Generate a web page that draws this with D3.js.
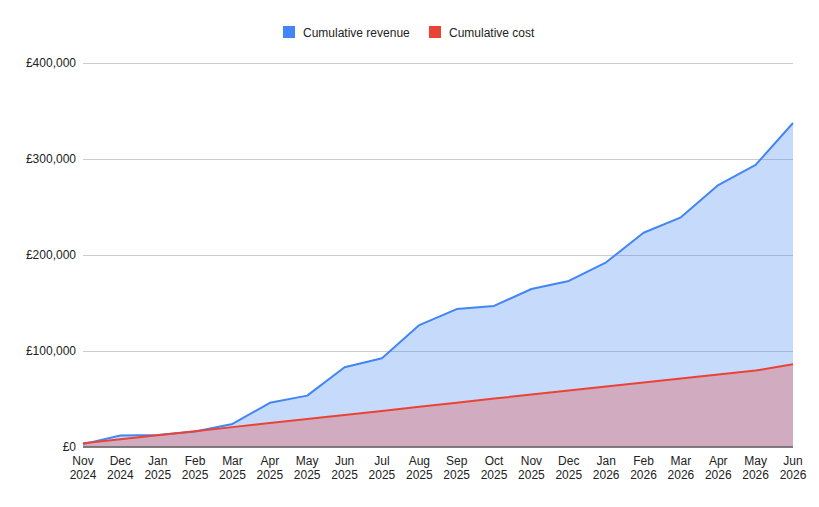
<!DOCTYPE html>
<html>
<head>
<meta charset="utf-8">
<script src="https://cdn.jsdelivr.net/npm/d3@7"></script>
<style>
  body { margin: 0; background: #fff; }
  text { font-family: "Liberation Sans", Arial, sans-serif; }
</style>
</head>
<body>
<div class="chart"></div>
<script>
// months on the x axis, two-line labels
const months = ["Nov", "Dec", "Jan", "Feb", "Mar", "Apr", "May", "Jun", "Jul", "Aug",
                "Sep", "Oct", "Nov", "Dec", "Jan", "Feb", "Mar", "Apr", "May", "Jun"]
const years = ["2024", "2024", "2025", "2025", "2025", "2025", "2025", "2025", "2025", "2025",
               "2025", "2025", "2025", "2025", "2026", "2026", "2026", "2026", "2026", "2026"]

const revenue = [3000, 12000, 12400, 16200, 24000, 46000, 53500, 83000, 92500, 127000,
                 143700, 147000, 164600, 173000, 192400, 223200, 239200, 272900, 293800, 337500]
const cost = [3900, 8100, 12300, 16500, 20700, 25000, 29200, 33400, 37600, 41900,
              46200, 50400, 54600, 58800, 63000, 67200, 71300, 75500, 79600, 86100]

const yTicks = [0, 100000, 200000, 300000, 400000]

const seriesNames = ["Cumulative revenue", "Cumulative cost"]
const seriesColors = ["#4285f4", "#ea4335"]

var margin = {top: 63, right: 26, bottom: 60, left: 83};
var width = 819 - margin.left - margin.right,
    height = 507 - margin.top - margin.bottom

const root = d3.select(".chart").append("svg")
    .attr("width", 819)
    .attr("height", 507)

const svg = root.append("g")
    .attr("transform", "translate(" + margin.left + "," + margin.top + ")")

const xScale = d3.scalePoint()
    .domain(d3.range(months.length))
    .range([0, width])

const yScale = d3.scaleLinear()
    .domain([0, 400000])
    .range([height, 0])

// gridlines
const yAxis = d3.axisLeft(yScale)
    .tickValues(yTicks)
    .tickSize(-width)
    .tickPadding(7)
    .tickFormat(d => "£" + d3.format(",")(d))

const yg = svg.append("g")
    .attr("class", "axis y-axis")
    .call(yAxis)
yg.select(".domain").remove()
yg.selectAll("line").attr("stroke", "#cccccc")
yg.selectAll("text").attr("font-size", 12).attr("fill", "#222")

const data = [revenue, cost]

const area = d3.area()
    .x((d, i) => xScale(i))
    .y0(height)
    .y1(d => yScale(d))

const line = d3.line()
    .x((d, i) => xScale(i))
    .y(d => yScale(d))

svg.selectAll(".area")
    .data(data)
    .enter()
    .append("path")
    .attr("class", "area")
    .attr("fill", (d, i) => seriesColors[i])
    .attr("fill-opacity", 0.3)
    .attr("d", area)

svg.selectAll(".line")
    .data(data)
    .enter()
    .append("path")
    .attr("class", "line")
    .attr("fill", "none")
    .attr("stroke", (d, i) => seriesColors[i])
    .attr("stroke-width", 2)
    .attr("stroke-linejoin", "round")
    .attr("d", line)

// baseline
svg.append("line")
    .attr("x1", 0).attr("x2", width)
    .attr("y1", yScale(0)).attr("y2", yScale(0))
    .attr("stroke", "#333")
    .attr("stroke-width", 1)

// x labels
const xl = svg.append("g")
    .attr("class", "axis x-axis")
    .attr("transform", `translate(0, ${height})`)
    .selectAll("text")
    .data(months)
    .enter()
    .append("text")
    .attr("x", (d, i) => xScale(i))
    .attr("text-anchor", "middle")
    .attr("font-size", 12)
    .attr("fill", "#222")
xl.append("tspan").attr("x", (d, i) => xScale(i)).attr("y", 18).text(d => d)
xl.append("tspan").attr("x", (d, i) => xScale(i)).attr("y", 32).text((d, i) => years[i])

// legend
const legendX = [283, 429]
const legend = root.append("g").attr("class", "legend")
    .selectAll("g")
    .data(seriesNames)
    .enter()
    .append("g")
    .attr("transform", (d, i) => `translate(${legendX[i]}, 26)`)
legend.append("rect")
    .attr("width", 12).attr("height", 12)
    .attr("fill", (d, i) => seriesColors[i])
legend.append("text")
    .attr("x", 20).attr("y", 10.5)
    .attr("font-size", 12)
    .attr("fill", "#222")
    .text(d => d)
</script>
</body>
</html>
